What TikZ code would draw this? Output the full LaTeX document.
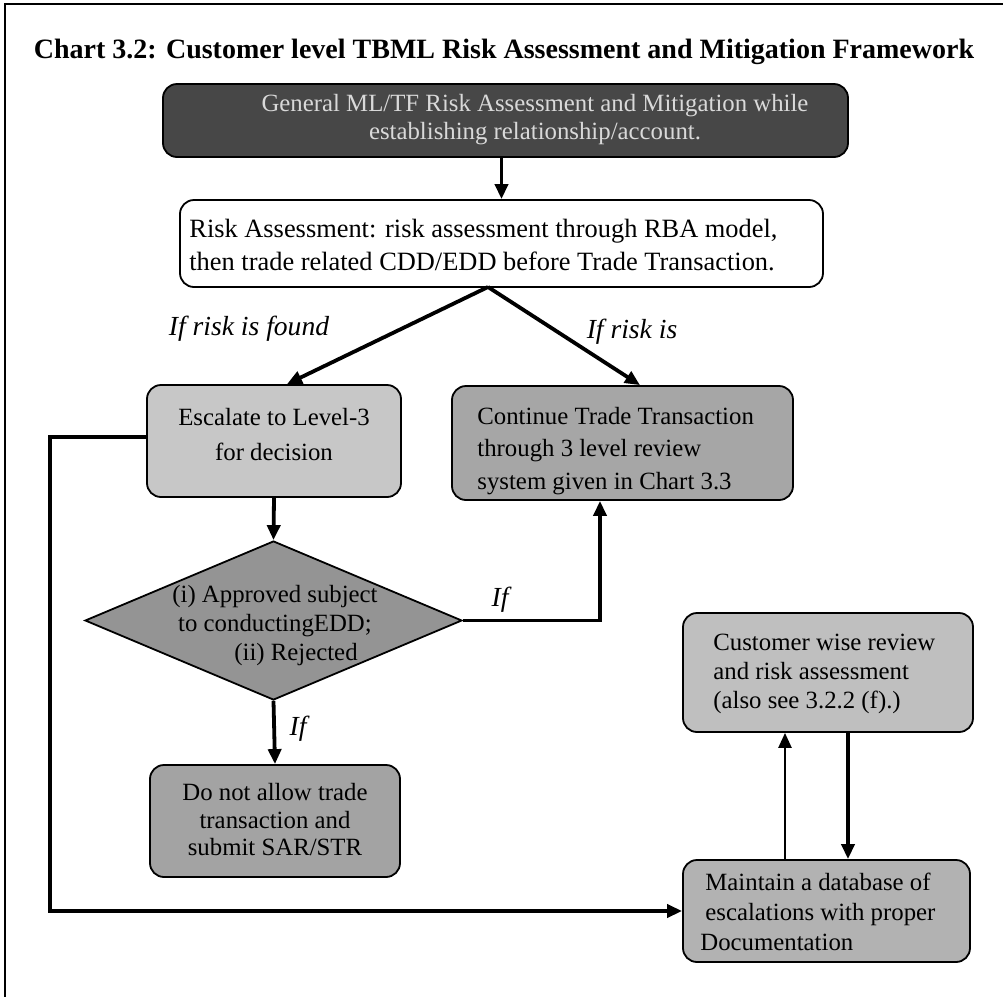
\documentclass[tikz,border=0pt]{standalone}
\usepackage{fontspec}
\setmainfont{Liberation Serif}
\usetikzlibrary{arrows.meta,calc,shapes.geometric}

\tikzset{
  box/.style={draw=black, line width=0.9pt, rounded corners=7pt, inner sep=0pt},
  txt/.style={inner sep=0pt, font=\fontsize{12.4}{#1}\selectfont},
  lbl/.style={inner sep=0pt, font=\fontsize{13.8}{15}\selectfont\itshape},
  conn/.style={line width=1.9pt, -{Triangle[length=7.5pt,width=6.5pt]}},
  thinconn/.style={line width=1.2pt, -{Triangle[length=7.5pt,width=6.5pt]}}
}

\begin{document}
\begin{tikzpicture}[x=0.5pt,y=-0.5pt]
\useasboundingbox (0,0) rectangle (1003,997);

% page frame
\draw[line width=1pt] (1003,4) -- (5,4) -- (5,997);

% title
\node[inner sep=0pt, font=\fontsize{14}{16}\selectfont\bfseries] (title) at (504,52)
  {Chart 3.2: Customer level TBML Risk Assessment and Mitigation Framework};

% boxes
\node[box, fill=black!72, minimum width=342.5pt, minimum height=36.5pt] (top) at (505.5,120.5) {};
\node[txt=14, text=black!15, align=center] (toptext) at (535,120)
  {General ML/TF Risk Assessment and Mitigation while\\establishing relationship/account.};

\node[box, fill=white, minimum width=321.5pt, minimum height=43.5pt] (risk) at (501.5,243.5) {};
\node[inner sep=0pt, font=\fontsize{13.2}{16.5}\selectfont, align=left, anchor=west] (risktext) at (189,245.5)
  {Risk Assessment: risk assessment through RBA model,\\then trade related CDD/EDD before Trade Transaction.};

\node[box, fill=black!22, minimum width=127pt, minimum height=56pt] (esc) at (274,441) {};
\node[txt=17.5, align=center] (esctext) at (274,434.5) {Escalate to Level-3\\for decision};

\node[box, fill=black!35, minimum width=170.5pt, minimum height=57pt] (cont) at (622.5,443) {};
\node[txt=16.25, align=left, anchor=west] (conttext) at (477,451)
  {Continue Trade Transaction\\through 3 level review\\system given in Chart 3.3};

\node[draw=black, line width=0.9pt, fill=black!42, diamond, inner sep=0pt,
      minimum width=188.5pt, minimum height=79.5pt] (dia) at (273.5,620.5) {};
\node[txt=14.5, align=center] (diatext) at (275,626)
  {(i) Approved subject\\to conductingEDD;\\\hspace*{21pt}(ii) Rejected};

\node[box, fill=black!36, minimum width=125pt, minimum height=56pt] (donot) at (275,821) {};
\node[txt=13.75, align=center] (donottext) at (275,820)
  {Do not allow trade\\transaction and\\submit SAR/STR};

\node[box, fill=black!25, minimum width=145pt, minimum height=59.5pt] (cust) at (828,672.5) {};
\node[txt=14.5, align=left, anchor=west] (custtext) at (713,674)
  {Customer wise review\\and risk assessment\\(also see 3.2.2 (f).)};

\node[box, fill=black!30, minimum width=143.5pt, minimum height=51pt] (maint) at (826.5,911) {};
\node[txt=15, align=left, anchor=west] (mainttext) at (700,912)
  {\hspace*{2.5pt}Maintain a database of\\\hspace*{2.5pt}escalations with proper\\Documentation};

% edge labels
\node[lbl] (lfound) at (249,329) {If risk is found};
\node[lbl] (lnot) at (632,332) {If risk is};
\node[lbl] (lifr) at (500,600) {If};
\node[lbl] (lifb) at (298,729) {If};

% connectors
\draw[conn] (risk.north |- top.south) -- (risk.north);
\coordinate (apex) at (488,287);
\draw[conn] (apex) -- ($(esc.north)+(13,0)$);
\draw[conn] (apex) -- ($(cont.north)+(17.5,0)$);
\draw[conn] (esc.south) -- (dia.north);
\draw[conn] (dia.east) -| ($(cont.south)+(-22.5,0)$);
\draw[conn] (dia.south) -- (donot.north);
\coordinate (leftrail) at (50,0);
\draw[conn] ($(esc.west)+(0,-4)$) -| (leftrail |- maint.west) -- (maint.west);
\coordinate (upx) at ($(maint.north)+(-41.5,0)$);
\draw[thinconn] (upx) -- (upx |- cust.south);
\coordinate (dnx) at ($(cust.south)+(20,0)$);
\draw[conn] (dnx) -- (dnx |- maint.north);
\end{tikzpicture}
\end{document}
